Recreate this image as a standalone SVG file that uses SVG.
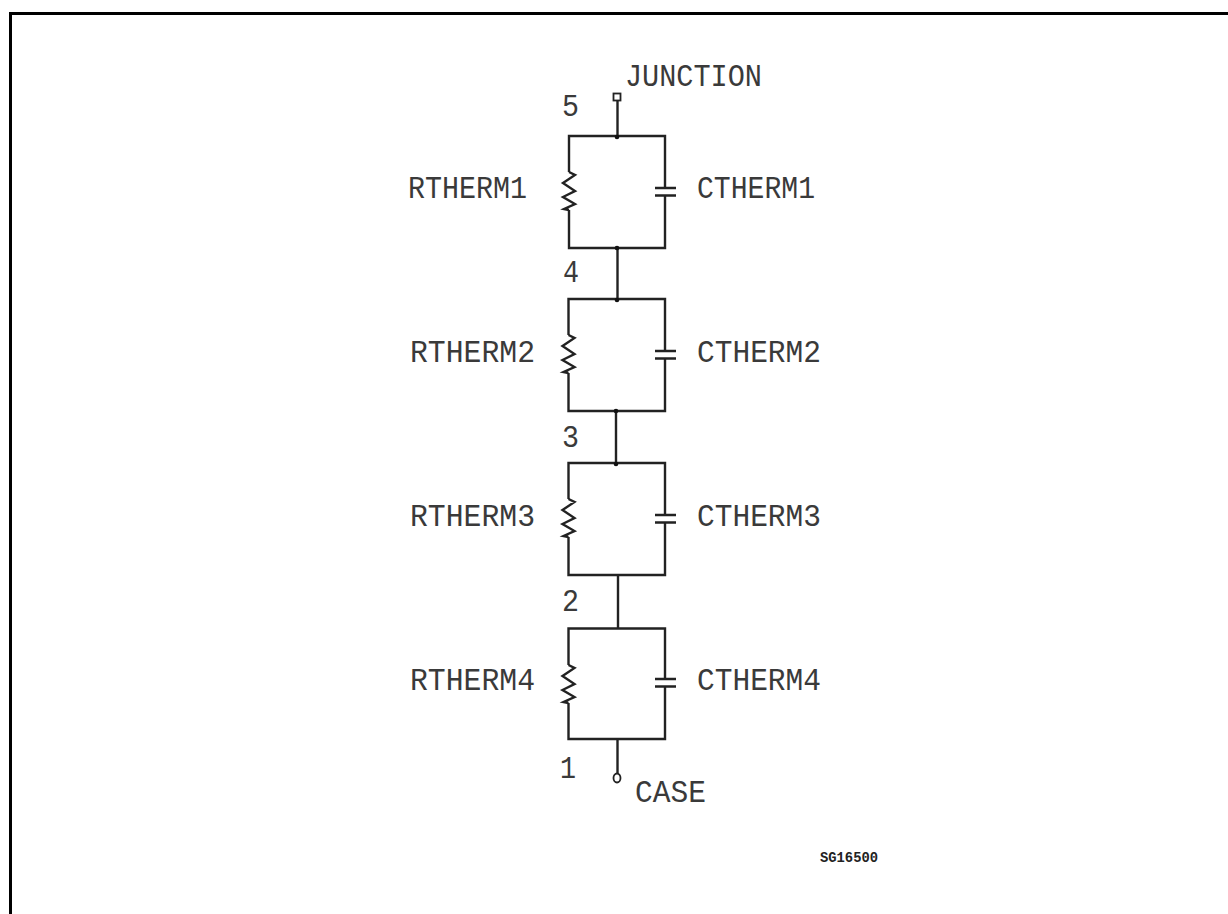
<svg xmlns="http://www.w3.org/2000/svg" width="1228" height="914" viewBox="0 0 1228 914">
<style>
.w{fill:none;stroke:#222;stroke-width:2.4}
.t{font-family:"Liberation Mono","DejaVu Sans Mono",monospace;font-size:31px;fill:#3a3a3a;stroke:none}
.s{font-family:"Liberation Mono",monospace;font-size:14px;font-weight:bold;fill:#222}
.d{fill:#111}
</style>
<defs>
<path id="res" class="w" d="M0 -38L6 -35L-6 -27L6 -19L-6 -13L6 -6L-5 -1L0 0"/>
<path id="cap" class="w" d="M-10 0H11M-10 7.500H11"/>
</defs>
<rect width="1228" height="914" fill="#fff"/>
<path id="border" d="M10.500 914V13.500H1228" fill="none" stroke="#000" stroke-width="3"/>
<g id="connectors" class="w">
<path d="M617.500 100V136"/>
<path d="M617.500 248V299"/>
<path d="M616 411V463"/>
<path d="M618 575V628"/>
<path d="M617.500 739V773"/>
</g>
<g id="terminal-junction"><rect x="613.500" y="93.500" width="7" height="7" fill="#fff" stroke="#222" stroke-width="1.800"/><text class="t" x="625" y="86" textLength="137" lengthAdjust="spacingAndGlyphs">JUNCTION</text></g>
<g id="terminal-case"><ellipse cx="617" cy="778" rx="3.500" ry="4.500" fill="#fff" stroke="#222" stroke-width="1.800"/><text class="t" x="635" y="802" textLength="71" lengthAdjust="spacingAndGlyphs">CASE</text></g>
<g id="node-5"><text class="t" x="562" y="116" textLength="17" lengthAdjust="spacingAndGlyphs">5</text></g>
<g id="node-4"><text class="t" x="563" y="282" textLength="16" lengthAdjust="spacingAndGlyphs">4</text></g>
<g id="node-3"><text class="t" x="562" y="447" textLength="17" lengthAdjust="spacingAndGlyphs">3</text></g>
<g id="node-2"><text class="t" x="562" y="611" textLength="17" lengthAdjust="spacingAndGlyphs">2</text></g>
<g id="node-1"><text class="t" x="560" y="778" textLength="16" lengthAdjust="spacingAndGlyphs">1</text></g>
<g id="block1"><path class="w" d="M569 172V136H665V188M665 196V248H569V210"/><use href="#res" x="569" y="210"/><use href="#cap" x="665" y="188"/><text class="t" x="408" y="198" textLength="119" lengthAdjust="spacingAndGlyphs">RTHERM1</text><text class="t" x="697" y="198" textLength="118" lengthAdjust="spacingAndGlyphs">CTHERM1</text></g>
<g id="block2"><path class="w" d="M568.500 335V299H665V351M665 359V411H568.500V373"/><use href="#res" x="568.500" y="373"/><use href="#cap" x="665" y="351"/><text class="t" x="410" y="362" textLength="125" lengthAdjust="spacingAndGlyphs">RTHERM2</text><text class="t" x="697" y="362" textLength="124" lengthAdjust="spacingAndGlyphs">CTHERM2</text></g>
<g id="block3"><path class="w" d="M568.500 499V463H665V515M665 523V575H568.500V537"/><use href="#res" x="568.500" y="537"/><use href="#cap" x="665" y="515"/><text class="t" x="410" y="526" textLength="125" lengthAdjust="spacingAndGlyphs">RTHERM3</text><text class="t" x="697" y="526" textLength="124" lengthAdjust="spacingAndGlyphs">CTHERM3</text></g>
<g id="block4"><path class="w" d="M568.500 665V628.500H665V679M665 686V739H568.500V703"/><use href="#res" x="568.500" y="703"/><use href="#cap" x="665" y="679"/><text class="t" x="410" y="690" textLength="125" lengthAdjust="spacingAndGlyphs">RTHERM4</text><text class="t" x="697" y="690" textLength="124" lengthAdjust="spacingAndGlyphs">CTHERM4</text></g>
<g id="dots" class="d"><circle cx="617" cy="137" r="2.300"/><circle cx="617" cy="248" r="2.300"/><circle cx="617" cy="300" r="2.300"/><circle cx="616" cy="411" r="2.300"/><circle cx="616" cy="464" r="2.300"/></g>
<text id="code" class="s" x="820" y="862" textLength="58" lengthAdjust="spacingAndGlyphs">SG16500</text>
</svg>
